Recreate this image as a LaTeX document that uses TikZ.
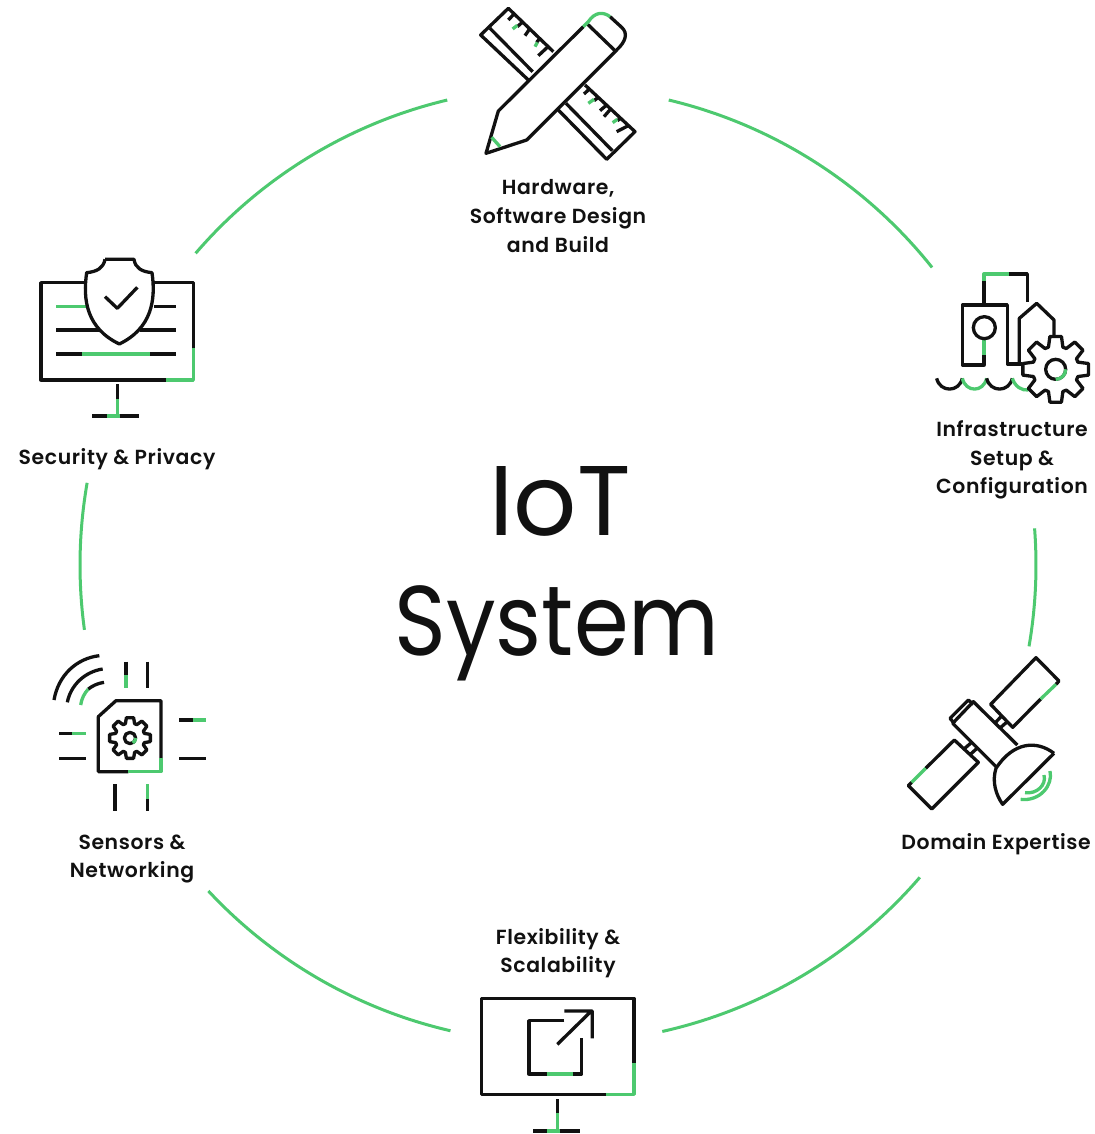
\documentclass[tikz,border=0pt]{standalone}
\usepackage{fontspec}
\usetikzlibrary{calc}
\setmainfont{Poppins}
\newfontfamily\lblfont{Poppins SemiBold}[LetterSpace=3]
\newfontfamily\bigfont{Poppins}
\newfontfamily\bignarrow{Poppins}[FakeStretch=0.89]
\definecolor{grn}{HTML}{4DC96F}
\definecolor{ink}{HTML}{111111}
\newcommand\gearat[5]{% cx,cy,rout,rroot,halfangle
  \begin{scope}[shift={(#1,#2)}]
  \draw[k,fill=white] (0-#5-8:#4)
    \foreach \a in {0,45,...,315}{ -- (\a-#5-8:#4) -- (\a-#5:#3) -- (\a+#5:#3) -- (\a+#5+8:#4) } -- cycle;
  \end{scope}}
\tikzset{
  k/.style={draw=ink,line width=3.3pt,line join=round},
  g/.style={draw=grn,line width=3.3pt,line join=round},
  ring/.style={draw=grn,line width=3pt},
  lbl/.style={font=\lblfont\fontsize{20.4}{28.6}\selectfont,text=ink,align=center,inner sep=0pt},
  big/.style={font=\bigfont\fontsize{99}{120}\selectfont,text=ink,align=center,inner sep=0pt},
  bign/.style={font=\bignarrow\fontsize{99}{120}\selectfont,text=ink,align=center,inner sep=0pt},
  zoomed/.style={shift={#1},scale=1/3}
}
\begin{document}
\begin{tikzpicture}[x=1pt,y=-1pt]
\useasboundingbox (0,0) rectangle (1094,1134);
% ring
\coordinate (ctr) at (558,565);
\foreach \n/\s/\e in {a/-103.4/-139.3,b/-76.6/-38.5,c/-4.4/9.8,d/40.8/77.4,e/103/137,f/172.2/189.9}{
  \coordinate (\n) at ($(ctr)+(\s:478)$);
  \draw[ring] (\n) arc[start angle=\s,end angle=\e,radius=478];
}
% texts
\node[big] (iot) at (560,501) {IoT};
\node[bign] (sys) at (557,633) {System};
\node[lbl] (l1) at (558,216) {Hardware,\\Software Design\\and Build};
\node[lbl] (l2) at (1012,460) {Infrastructure\\Setup \&\\Configuration};
\node[lbl] (l3) at (996,844) {Domain Expertise};
\node[lbl] (l4) at (558,953) {Flexibility \&\\Scalability};
\node[lbl] (l5) at (132,859) {Sensors \&\\Networking};
\node[lbl] (l6) at (117,459) {Security \& Privacy};
% icon 1: ruler and pencil
\begin{scope}[zoomed={(460,0)}]
\draw[k] (205,240)--(62,105)--(145,25)--(280,155);
\draw[k] (90,85)--(218,215);
\draw[k] (295,330)--(440,478)--(525,395)--(375,255);
\draw[k] (318,310)--(457,452);
\draw[k] (162,42)--(145,60) (188,66)--(172,80) (208,88)--(195,107) (238,117)--(230,127) (262,142)--(235,167);
\draw[g] (172,76)--(158,87) (232,127)--(225,140);
\draw[k] (388,267)--(372,282) (415,292)--(402,302) (440,315)--(420,332) (452,327)--(432,350) (482,355)--(472,362) (505,377)--(470,395);
\draw[g] (402,298)--(385,310) (472,358)--(458,368);
\draw[k] (370,80)--(115,333)--(78,460)--(200,420)--(470,150) .. controls (497,125) and (505,100) .. (485,82)--(450,50);
\draw[k] (380,70)--(465,152);
\draw[g] (370,80)--(385,65) .. controls (405,35) and (430,35) .. (450,50);
\draw[g] (95,412)--(120,440);
\end{scope}
% icon 2: infrastructure
\begin{scope}[zoomed={(920,260)}]
\draw[k] (192,135)--(192,62);
\draw[g] (192,62)--(192,42)--(268,42);
\draw[k] (268,42)--(322,42)--(322,125);
\draw[k] (192,285)--(192,315)--(127,315)--(127,135)--(262,135)--(262,312)--(305,312);
\draw[g] (192,285)--(192,240);
\draw[k] (193,203) circle[radius=33];
\draw[k] (298,310)--(298,175)--(350,130)--(402,180)--(402,228);
\draw[k] (50,355) .. controls (60,398) and (117,398) .. (127,355);
\draw[g] (127,355) .. controls (137,398) and (190,398) .. (200,355);
\draw[k] (200,355) .. controls (210,398) and (267,398) .. (277,355);
\draw[g] (277,355) .. controls (285,380) and (305,392) .. (325,390);
\gearat{407}{328}{100}{70}{10}
\draw[k] (407,328) circle[radius=30];
\draw[g] (437,328) arc[start angle=0,end angle=90,radius=30];
\end{scope}
% icon 3: satellite
\begin{scope}[zoomed={(890,645)}]
\draw[k] (498,118)--(507,108)--(438,38)--(302,178)--(368,247)--(452,162);
\draw[g] (498,118)--(452,162);
\draw[k] (315,234)--(335,213) (330,249)--(352,230);
\draw[k] (382,300)--(250,170)--(188,235)--(318,365);
\draw[k] (193,235)--(180,220)--(235,165)--(250,178);
\draw[k] (107,370)--(193,285)--(265,352)--(125,492)--(55,422)--(65,412);
\draw[g] (107,370)--(65,412);
\draw[k] (222,312)--(245,292) (240,329)--(262,309);
\draw[k] (492,325)--(338,478) .. controls (318,450) and (305,410) .. (318,370) .. controls (370,290) and (440,285) .. (492,325);
\draw[g] (480,378) .. controls (490,420) and (450,470) .. (392,463);
\draw[g] (462,390) .. controls (470,420) and (440,448) .. (405,443);
\end{scope}
% icon 4: monitor with arrow
\begin{scope}[zoomed={(470,985)}]
\draw[k] (492,235)--(492,40)--(35,40)--(35,328)--(408,328);
\draw[g] (408,328)--(492,328)--(492,235);
\draw[k] (263,343)--(263,385);
\draw[k] (190,438)--(330,438);
\draw[g] (263,385)--(263,438) (232,438)--(270,438);
\draw[k] (283,107)--(177,107)--(177,267)--(230,267);
\draw[g] (230,267)--(308,267);
\draw[k] (308,267)--(335,267)--(335,160);
\draw[k] (262,178)--(362,80) (283,78)--(367,78)--(367,160);
\end{scope}
% icon 5: sensors
\begin{scope}[zoomed={(40,645)}]
\draw[k] (42,165) .. controls (55,90) and (110,40) .. (178,32);
\draw[k] (82,172) .. controls (92,120) and (135,80) .. (188,72);
\draw[g] (122,180) .. controls (125,160) and (133,145) .. (145,132);
\draw[k] (145,132) .. controls (158,122) and (173,115) .. (192,112);
\draw[k] (258,50)--(258,90) (322,50)--(322,130);
\draw[g] (258,90)--(258,130);
\draw[k] (418,225)--(458,225) (418,340)--(497,340);
\draw[g] (458,225)--(497,225);
\draw[k] (58,265)--(97,265) (58,340)--(138,340);
\draw[g] (97,265)--(138,265);
\draw[k] (225,417)--(225,497) (322,462)--(322,497);
\draw[g] (322,417)--(322,462);
\draw[k] (265,380)--(175,380)--(175,215)--(228,167)--(363,167)--(363,340);
\draw[g] (363,340)--(363,380)--(265,380);
\gearat{270}{279}{62}{45}{10}
\draw[k] (270,279) circle[radius=17];
\draw[g] (287,279) arc[start angle=0,end angle=60,radius=17];
\end{scope}
% icon 6: security
\begin{scope}[zoomed={(30,250)}]
\draw[k] (165,98)--(33,98)--(33,390)--(408,390);
\draw[g] (408,390)--(490,390)--(490,295);
\draw[k] (490,295)--(490,98)--(372,98);
\draw[g] (78,170)--(170,170);
\draw[k] (372,170)--(438,170) (78,240)--(210,240) (330,240)--(438,240);
\draw[k] (78,312)--(157,312) (360,312)--(438,312);
\draw[g] (157,312)--(360,312);
\draw[k] (262,403)--(262,447) (187,498)--(328,498);
\draw[g] (262,447)--(262,498) (232,498)--(270,498);
\draw[k] (225,28)--(312,28) .. controls (316,55) and (336,65) .. (366,68) .. controls (378,150) and (365,235) .. (268,282) .. controls (170,235) and (158,150) .. (170,68) .. controls (200,65) and (220,55) .. (225,28);
\draw[k] (225,140)--(262,175)--(322,112);
\end{scope}
\end{tikzpicture}
\end{document}
